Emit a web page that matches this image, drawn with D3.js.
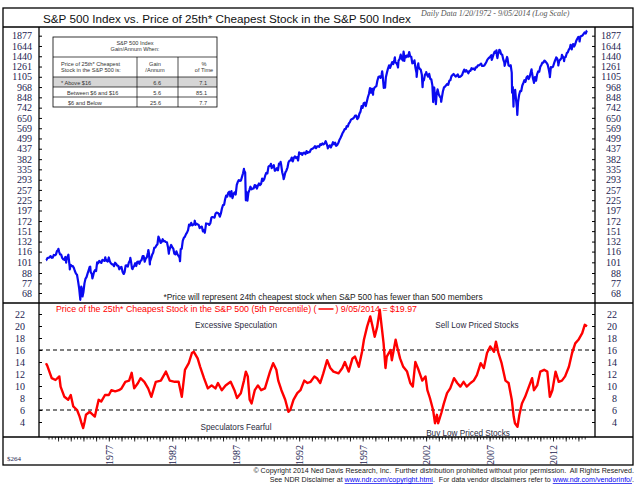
<!DOCTYPE html>
<html><head><meta charset="utf-8">
<script src="https://cdn.jsdelivr.net/npm/d3@7"></script>
<style>body{margin:0;background:#fff} svg{display:block}</style>
</head><body><svg id="c" width="640" height="488"></svg>
<script>
// ---------------- DATA ----------------
// S&P 500 month-end closes, Jan 1972 .. Aug 2014
const spxMonthEnd = [
103.9,106.6,107.2,107.7,109.5,107.1,107.4,111.1,110.6,111.6,116.7,118.1,
116.0,111.7,111.5,107.0,105.0,104.3,108.2,104.3,108.4,108.3,96.0,97.6,
96.6,96.2,94.0,90.3,87.3,86.0,79.3,72.2,63.5,73.9,70.0,68.6,
77.0,81.6,83.4,87.3,91.2,95.2,88.8,86.9,83.9,89.0,91.2,90.2,
100.9,99.7,102.8,101.6,100.2,104.3,103.4,102.9,105.2,102.9,102.1,107.5,
102.0,99.8,98.4,98.4,96.1,100.5,98.9,96.8,96.5,92.3,94.8,95.1,
89.3,87.0,89.2,96.8,97.2,95.5,100.7,103.3,102.5,93.2,94.7,96.1,
99.9,96.3,101.6,101.8,99.1,102.9,103.8,109.3,109.3,101.8,106.2,107.9,
114.2,113.7,102.1,106.3,111.2,114.2,121.7,122.4,125.5,127.5,140.5,135.8,
129.6,131.3,136.0,132.8,132.6,131.2,130.9,122.8,116.2,121.9,126.4,122.6,
120.4,113.1,112.0,116.4,111.9,109.6,107.1,119.5,120.4,133.7,138.5,140.6,
145.3,148.1,153.0,164.4,162.4,168.1,162.6,164.4,166.1,163.6,166.4,164.9,
163.4,157.1,159.2,160.1,150.6,153.2,150.7,166.7,166.1,166.1,163.6,167.2,
179.6,181.2,180.7,179.8,189.6,191.9,190.9,188.6,182.1,189.8,202.2,211.3,
211.8,226.9,238.9,235.5,247.4,250.8,236.1,252.9,231.3,244.0,249.2,242.2,
274.1,284.2,291.7,288.4,290.1,304.0,318.7,329.8,321.8,251.8,230.3,247.1,
257.1,267.8,258.9,261.3,262.2,273.5,272.0,261.5,271.9,279.0,273.7,277.7,
297.5,288.9,294.9,309.6,320.5,318.0,346.1,351.5,349.2,340.4,346.0,353.4,
329.1,331.9,339.9,330.8,361.2,358.0,356.2,322.6,306.1,304.0,322.2,330.2,
343.9,367.1,375.2,375.4,389.8,371.2,387.8,395.4,387.9,392.5,375.2,417.1,
408.8,412.7,403.7,415.0,415.4,408.1,424.2,414.0,417.8,418.7,431.4,435.7,
438.8,443.4,451.7,440.2,450.2,450.5,448.1,463.6,458.9,467.8,461.8,466.5,
481.6,467.1,445.8,450.9,456.5,444.3,458.3,475.5,462.7,472.4,453.7,459.3,
470.4,487.4,500.7,514.7,533.4,544.8,562.1,561.9,584.4,581.5,605.4,615.9,
636.0,640.4,645.5,654.2,669.1,670.6,640.0,652.0,687.3,705.3,757.0,740.7,
786.2,790.8,757.1,801.3,848.3,885.1,954.3,899.5,947.3,914.6,955.4,970.4,
980.3,1049.3,1101.8,1111.8,1090.8,1133.8,1120.7,957.3,1017.0,1098.7,1163.6,1229.2,
1279.6,1238.3,1286.4,1335.2,1301.8,1372.7,1328.7,1320.4,1282.7,1362.9,1388.9,1469.3,
1394.5,1366.4,1498.6,1452.4,1420.6,1454.6,1430.8,1517.7,1436.5,1429.4,1315.0,1320.3,
1366.0,1239.9,1160.3,1249.5,1255.8,1224.4,1211.2,1133.6,1040.9,1059.8,1139.5,1148.1,
1130.2,1106.7,1147.4,1076.9,1067.1,989.8,911.6,916.1,815.3,885.8,936.3,879.8,
855.7,841.2,848.2,916.9,963.6,974.5,990.3,1008.0,996.0,1050.7,1058.2,1111.9,
1131.1,1144.9,1126.2,1107.3,1120.7,1140.8,1101.7,1104.2,1114.6,1130.2,1173.8,1211.9,
1181.3,1203.6,1180.6,1156.9,1191.5,1191.3,1234.2,1220.3,1228.8,1207.0,1249.5,1248.3,
1280.1,1280.7,1294.8,1310.6,1270.1,1270.2,1276.7,1303.8,1335.9,1377.9,1400.6,1418.3,
1438.2,1406.8,1420.9,1482.4,1530.6,1503.4,1455.3,1474.0,1526.8,1549.4,1481.1,1468.4,
1378.6,1330.6,1322.7,1385.6,1400.4,1280.0,1267.4,1282.8,1166.4,968.8,896.2,903.3,
825.9,735.1,797.9,872.8,919.1,919.3,987.5,1020.6,1057.1,1036.2,1095.6,1115.1,
1073.9,1104.5,1169.4,1186.7,1089.4,1030.7,1101.6,1049.3,1141.2,1183.3,1180.6,1257.6,
1286.1,1327.2,1325.8,1363.6,1345.2,1320.6,1292.3,1218.9,1131.4,1253.3,1247.0,1257.6,
1312.4,1365.7,1408.5,1397.9,1310.3,1362.2,1379.3,1406.6,1440.7,1412.2,1416.2,1426.2,
1498.1,1514.7,1569.2,1597.6,1630.7,1606.3,1685.7,1633.0,1681.6,1756.5,1805.8,1848.4,
1782.6,1859.5,1872.3,1884.0,1923.6,1960.2,1930.7,2003.4
];
// intra-month turning points of the S&P 500 (date, level)
const spxTurnDates = ["1972-01-20","1973-01-11","1973-08-22","1973-10-26","1973-12-05","1974-10-03","1974-12-06","1975-07-15","1975-09-16","1976-09-21","1978-03-06","1978-09-12","1978-11-14","1980-02-13","1980-03-27","1980-11-28","1981-09-25","1982-08-12","1983-10-10","1984-07-24","1987-08-25","1987-10-19","1987-12-04","1989-10-09","1990-07-16","1990-10-11","1994-02-02","1994-04-04","1997-10-27","1998-07-17","1998-10-08","1999-07-16","1999-10-15","2000-03-24","2000-04-14","2000-09-01","2001-04-04","2001-05-21","2001-09-21","2002-01-04","2002-07-23","2002-08-22","2002-10-09","2002-11-27","2003-03-11","2007-02-20","2007-03-05","2007-07-19","2007-08-15","2007-10-09","2008-03-10","2008-05-19","2008-10-10","2008-11-20","2009-01-06","2009-03-09","2010-04-23","2010-07-02","2011-04-29","2011-10-03","2012-04-02","2012-06-01","2012-09-14","2012-11-15","2013-05-21","2013-06-24","2014-02-03","2014-09-05"];
const spxTurnValues = [103.7,120.2,100.5,111.4,92.2,62.3,65.0,95.6,82.1,107.8,86.9,107.0,92.5,118.4,98.2,140.5,112.8,102.4,172.7,147.8,336.8,224.8,223.9,359.8,369.0,295.5,482.0,438.9,877.0,1186.8,959.4,1418.8,1247.4,1527.5,1356.6,1520.8,1103.3,1312.8,965.8,1172.5,797.7,962.7,776.8,938.9,800.7,1459.7,1374.1,1553.1,1406.7,1565.2,1273.4,1426.6,899.2,752.4,934.7,676.5,1217.3,1022.6,1363.6,1099.2,1419.0,1278.0,1465.8,1353.3,1669.2,1573.1,1741.9,2007.7];

// Price of the 25th cheapest stock in the S&P 500 (decimal year, $)
const cheapYears = [1972.05,1972.15,1972.5,1972.8,1973.1,1973.2,1973.5,1973.8,1974.0,1974.2,1974.5,1974.7,1974.85,1974.98,1975.1,1975.2,1975.5,1975.75,1975.9,1976.2,1976.4,1976.7,1977.0,1977.2,1977.5,1977.8,1978.0,1978.3,1978.6,1978.8,1979.0,1979.3,1979.5,1979.8,1980.1,1980.35,1980.7,1981.1,1981.5,1981.8,1982.2,1982.5,1982.75,1983.0,1983.3,1983.55,1983.7,1984.0,1984.2,1984.5,1984.8,1985.1,1985.4,1985.6,1985.9,1986.2,1986.6,1986.9,1987.1,1987.4,1987.65,1987.8,1987.95,1988.1,1988.25,1988.5,1988.75,1989.0,1989.3,1989.7,1989.95,1990.2,1990.35,1990.6,1990.9,1991.15,1991.3,1991.55,1991.85,1992.1,1992.4,1992.65,1992.9,1993.2,1993.4,1993.66,1993.9,1994.2,1994.45,1994.7,1995.1,1995.4,1995.6,1995.9,1996.2,1996.4,1996.7,1996.95,1997.1,1997.35,1997.6,1997.75,1997.95,1998.15,1998.35,1998.5,1998.65,1998.8,1998.9,1999.2,1999.3,1999.6,1999.75,1999.95,2000.2,2000.5,2000.75,2000.95,2001.15,2001.4,2001.7,2001.95,2002.1,2002.3,2002.55,2002.7,2002.85,2002.95,2003.2,2003.4,2003.65,2003.9,2004.2,2004.45,2004.7,2004.95,2005.2,2005.5,2005.75,2006.0,2006.3,2006.55,2006.8,2007.05,2007.35,2007.5,2007.7,2007.95,2008.25,2008.5,2008.75,2008.9,2009.0,2009.2,2009.35,2009.55,2009.8,2010.1,2010.35,2010.5,2010.75,2011.0,2011.3,2011.55,2011.75,2011.95,2012.2,2012.45,2012.7,2012.95,2013.25,2013.5,2013.75,2014.0,2014.3,2014.5,2014.68];
const cheapPrices = [13.8,13.4,11.3,11.0,11.6,9.9,8.2,7.7,8.5,6.6,6.0,4.9,3.8,3.0,4.1,5.2,5.7,5.2,4.9,7.7,7.4,8.5,8.5,9.3,9.1,9.3,9.6,10.7,10.9,12.2,9.6,10.5,11.3,10.7,9.6,8.2,10.7,10.9,12.4,10.9,10.7,10.7,8.2,12.7,13.8,15.5,15.7,14.6,13.2,11.3,9.6,10.1,9.6,10.5,9.3,10.1,10.7,9.3,8.0,8.8,10.9,12.4,11.6,7.7,7.1,9.3,10.1,9.3,9.6,12.4,13.8,12.7,10.9,9.3,7.7,5.7,6.0,7.7,8.8,9.3,10.9,10.5,10.7,11.6,11.3,10.5,12.1,14.3,13.0,12.4,12.1,13.0,14.0,12.4,14.6,14.9,13.2,15.7,17.7,19.9,21.6,20.2,18.2,19.9,22.7,19.9,17.1,13.0,14.9,16.0,14.3,17.7,16.3,14.6,13.2,12.4,10.5,9.9,14.0,12.7,10.9,11.6,9.3,8.0,6.0,3.8,5.2,3.8,5.5,7.1,8.8,9.6,11.3,10.5,9.9,10.7,9.9,10.5,10.9,11.8,13.8,13.0,15.5,16.6,15.7,17.4,15.5,13.8,10.9,10.5,7.7,4.9,3.8,3.2,5.2,7.1,8.2,9.9,11.3,9.3,10.1,12.4,12.7,12.4,8.2,9.3,12.4,10.7,10.9,11.6,13.2,15.5,17.1,17.7,18.8,20.2,19.97];

const spxTicks = [68,77,88,101,116,132,151,172,197,225,257,293,335,382,437,499,569,650,742,848,968,1105,1261,1440,1644,1877];
const priceTicks = [4,6,8,10,12,14,16,18,20,22];
const yearTicks = [1977,1982,1987,1992,1997,2002,2007,2012];
const zoneLevels = [16,6];

const tableRowLabels = ["* Above $16","Between $6 and $16","$6 and Below"];
const tableGain = ["6.6","5.6","25.6"];
const tableTime = ["7.1","85.1","7.7"];

// ---------------- DRAW ----------------
const svg = d3.select('#c');
const navy = '#23234f';
const F = {l:3, r:633, t:8, b:465};
const titleY = 27, split = 303, axisY = 437, pL = 39, pR = 595;

const yearToDate = y => { const yr = Math.floor(y); const s = new Date(yr,0,1), e = new Date(yr+1,0,1); return new Date(+s + (y-yr)*(e-s)); };
const parse = d3.timeParse('%Y-%m-%d');

const x = d3.scaleTime().domain([new Date(1972,0,20), new Date(2014,8,5)]).range([46,587]);
const yTop = d3.scaleLog().domain([68,1877]).range([293,35.7]);
const yBot = d3.scaleLinear().domain([4,22]).range([422,314]);

// frame
const g = svg.append('g');
g.append('rect').attr('x',F.l).attr('y',F.t).attr('width',F.r-F.l).attr('height',F.b-F.t).attr('fill','none').attr('stroke','#000').attr('stroke-width',1.3);
[[F.l,titleY,F.r,titleY],[F.l,split,F.r,split],[F.l,axisY,F.r,axisY],[pL,titleY,pL,axisY],[pR,titleY,pR,axisY]].forEach(l=>{
  g.append('line').attr('x1',l[0]).attr('y1',l[1]).attr('x2',l[2]).attr('y2',l[3]).attr('stroke','#000').attr('stroke-width',1.3);
});

// titles
svg.append('text').attr('x',43).attr('y',23).attr('font-family','Liberation Sans, Arial, sans-serif').attr('font-size',11.7).attr('fill','#111')
  .text('S&P 500 Index vs. Price of 25th* Cheapest Stock in the S&P 500 Index');
svg.append('text').attr('x',421).attr('y',16).attr('font-family','Liberation Serif, Times New Roman, serif').attr('font-style','italic').attr('font-size',8).attr('fill','#555')
  .text('Daily Data 1/20/1972 - 9/05/2014 (Log Scale)');

// top axes
const axL = d3.axisLeft(yTop).tickValues(spxTicks).tickFormat(d3.format('d')).tickSizeInner(-3).tickSizeOuter(0).tickPadding(7);
const gl = svg.append('g').attr('transform',`translate(${pL},0)`).call(axL);
const axR = d3.axisRight(yTop).tickValues(spxTicks).tickFormat(d3.format('d')).tickSizeInner(-3).tickSizeOuter(0).tickPadding(26);
const gr = svg.append('g').attr('transform',`translate(${pR},0)`).call(axR);
gr.selectAll('text').attr('text-anchor','end');
// bottom panel axes
const bL = d3.axisLeft(yBot).tickValues(priceTicks).tickSizeInner(-3).tickSizeOuter(0).tickPadding(14);
const gbl = svg.append('g').attr('transform',`translate(${pL},0)`).call(bL);
const bR = d3.axisRight(yBot).tickValues(priceTicks).tickSizeInner(-3).tickSizeOuter(0).tickPadding(22);
const gbr = svg.append('g').attr('transform',`translate(${pR},0)`).call(bR);
gbr.selectAll('text').attr('text-anchor','end');
[gl,gr,gbl,gbr].forEach(a=>{
  a.select('.domain').remove();
  a.selectAll('line').attr('stroke','#000');
  a.selectAll('text').attr('font-family','Liberation Serif, Times New Roman, serif').attr('font-size',10).attr('fill',navy);
});

// table
const tb = svg.append('g').attr('font-family','Liberation Sans, Arial, sans-serif').attr('font-size',5.6).attr('fill','#333');
tb.append('rect').attr('x',53).attr('y',77).attr('width',164).attr('height',10).attr('fill','#d6d6d6');
tb.append('rect').attr('x',53).attr('y',37).attr('width',164).attr('height',70).attr('fill','none').attr('stroke','#000').attr('stroke-width',0.8);
[[53,57,217,57],[53,77,217,77],[53,87,217,87],[53,97,217,97],[137,57,137,107],[178,57,178,107]].forEach(l=>{
  tb.append('line').attr('x1',l[0]).attr('y1',l[1]).attr('x2',l[2]).attr('y2',l[3]).attr('stroke','#000').attr('stroke-width',0.7);
});
tb.append('text').attr('x',135).attr('y',45).attr('text-anchor','middle').text('S&P 500 Index');
tb.append('text').attr('x',135).attr('y',51).attr('text-anchor','middle').text('Gain/Annum When:');
tb.append('text').attr('x',61).attr('y',66).text('Price of 25th* Cheapest');
tb.append('text').attr('x',61).attr('y',72).text('Stock in the S&P 500 is:');
tb.append('text').attr('x',155).attr('y',66).attr('text-anchor','middle').text('Gain');
tb.append('text').attr('x',155).attr('y',72).attr('text-anchor','middle').text('/Annum');
tb.append('text').attr('x',204).attr('y',66).attr('text-anchor','middle').text('%');
tb.append('text').attr('x',204).attr('y',72).attr('text-anchor','middle').text('of Time');
const rowX = [61,67,68];
tableRowLabels.forEach((r,i)=>{
  const yy = 84.5 + i*10;
  tb.append('text').attr('x',rowX[i]).attr('y',yy).text(r);
  tb.append('text').attr('x',161).attr('y',yy).attr('text-anchor','end').text(tableGain[i]);
  tb.append('text').attr('x',207).attr('y',yy).attr('text-anchor','end').text(tableTime[i]);
});

// S&P line
const spxData = spxMonthEnd.map((v,i)=>({d:new Date(1972, i+1, 0), v}))
  .concat(spxTurnDates.map((d,i)=>({d:parse(d), v:spxTurnValues[i]})))
  .sort((a,b)=>a.d-b.d);
svg.append('path').datum(spxData).attr('fill','none').attr('stroke','#0a0af0').attr('stroke-width',2.2).attr('stroke-linejoin','round')
  .attr('d', d3.line().x(d=>x(d.d)).y(d=>yTop(d.v)));

// footnote
svg.append('text').attr('x',323).attr('y',300).attr('text-anchor','middle').attr('font-family','Liberation Sans, Arial, sans-serif').attr('font-size',8.4).attr('fill','#222')
  .text('*Price will represent 24th cheapest stock when S&P 500 has fewer than 500 members');

// zone lines
zoneLevels.forEach(v=>{
  svg.append('line').attr('x1',pL).attr('x2',pR).attr('y1',yBot(v)).attr('y2',yBot(v)).attr('stroke','#000').attr('stroke-width',1).attr('stroke-dasharray','4,3');
});

// cheap stock line
const cheapData = cheapYears.map((y,i)=>({d:yearToDate(y), v:cheapPrices[i]}));
svg.append('path').datum(cheapData).attr('fill','none').attr('stroke','#ff0000').attr('stroke-width',2.4).attr('stroke-linejoin','round')
  .attr('d', d3.line().x(d=>x(d.d)).y(d=>yBot(d.v)));

// legend / red title
const rt = svg.append('text').attr('x',56).attr('y',312).attr('font-family','Liberation Sans, Arial, sans-serif').attr('font-size',8.8).attr('fill','#ff0000')
  .text('Price of the 25th* Cheapest Stock in the S&P 500 (5th Percentile) (');
const rw = rt.node().getComputedTextLength();
svg.append('line').attr('x1',56+rw+2).attr('x2',56+rw+17).attr('y1',309).attr('y2',309).attr('stroke','#ff0000').attr('stroke-width',1.5);
svg.append('text').attr('x',56+rw+19).attr('y',312).attr('font-family','Liberation Sans, Arial, sans-serif').attr('font-size',8.8).attr('fill','#ff0000')
  .text(') 9/05/2014 = $19.97');

// annotations
const ann = [['Excessive Speculation',236,328],['Speculators Fearful',236,430],['Sell Low Priced Stocks',477,328],['Buy Low Priced Stocks',468,436]];
ann.forEach(a=>svg.append('text').attr('x',a[1]).attr('y',a[2]).attr('text-anchor','middle').attr('font-family','Liberation Sans, Arial, sans-serif').attr('font-size',8.2).attr('fill','#2a2a40').text(a[0]));

// x axis
const quarters = d3.timeMonth.every(3).range(new Date(1972,3,1), new Date(2014,9,1));
const gxMinor = svg.append('g').attr('transform',`translate(0,${axisY})`).call(d3.axisBottom(x).tickValues(quarters).tickSize(2.5).tickFormat(''));
const years = d3.timeYear.range(new Date(1973,0,1), new Date(2015,0,1));
const gxYear = svg.append('g').attr('transform',`translate(0,${axisY})`).call(d3.axisBottom(x).tickValues(years).tickSize(4.5).tickFormat(''));
const gxLab = svg.append('g').attr('transform',`translate(0,${axisY})`).call(d3.axisBottom(x).tickValues(yearTicks.map(y=>new Date(y,0,1))).tickSize(0).tickFormat(d3.timeFormat('%Y')));
[gxMinor,gxYear,gxLab].forEach(a=>{a.select('.domain').remove(); a.selectAll('line').attr('stroke','#000').attr('stroke-width',0.8);});
gxLab.selectAll('text').attr('transform','rotate(-90)').attr('x',-8).attr('y',0).attr('dy','0.35em').attr('text-anchor','end')
  .attr('font-family','Liberation Serif, Times New Roman, serif').attr('font-size',10).attr('fill',navy);

svg.append('text').attr('x',7).attr('y',461).attr('font-family','Liberation Serif, Times New Roman, serif').attr('font-size',7).attr('fill',navy).text('$264');

// copyright
const cp = svg.append('g').attr('font-family','Liberation Sans, Arial, sans-serif').attr('font-size',7.1).attr('fill','#222').attr('text-anchor','end');
cp.append('text').attr('x',634).attr('y',473).attr('xml:space','preserve').text('\u00A9 Copyright 2014 Ned Davis Research, Inc.  Further distribution prohibited without prior permission.  All Rights Reserved.');
const t2 = cp.append('text').attr('x',634).attr('y',482).attr('xml:space','preserve');
t2.append('tspan').text('See NDR Disclaimer at ');
t2.append('tspan').attr('fill','#0000ee').attr('text-decoration','underline').text('www.ndr.com/copyright.html');
t2.append('tspan').text('.  For data vendor disclaimers refer to ');
t2.append('tspan').attr('fill','#0000ee').attr('text-decoration','underline').text('www.ndr.com/vendorinfo/');
t2.append('tspan').text('.');
</script></body></html>
